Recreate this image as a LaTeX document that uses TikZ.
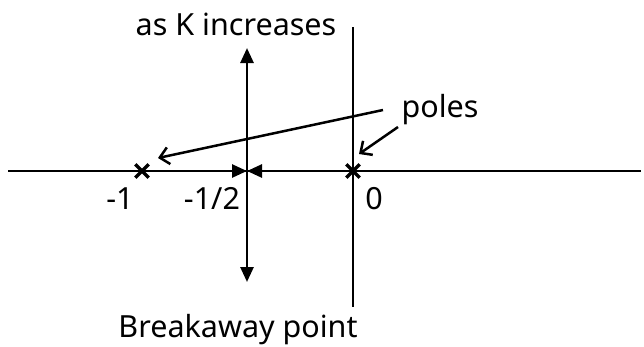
\documentclass[tikz,border=0pt]{standalone}
\usepackage{fontspec}
\setmainfont{Noto Sans}
\usetikzlibrary{positioning,arrows.meta,shapes.misc}
\tikzset{
  axisline/.style={line width=1.3pt, black},
  locusarrow/.style={-{Triangle[length=15pt,width=13pt]}, line width=2.7pt},
  polearrow/.style={-{Straight Barb[length=9pt,width=17pt]}, line width=2.5pt},
  polemark/.style={cross out, draw, line width=3.4pt, minimum size=10pt, inner sep=0pt},
  lbl/.style={anchor=base, inner sep=0pt, font=\fontsize{30.5}{35}\selectfont}
}
\begin{document}
\begin{tikzpicture}[x=1pt, y=-1pt]
      \useasboundingbox (0,0) rectangle (644,346);
      % axes
      \coordinate (reL) at (8,171);
      \coordinate (reR) at (641,171);
      \coordinate (imT) at (353,27);
      \coordinate (imB) at (353,307);
      \draw[axisline] (reL) -- (reR);
      \draw[axisline] (imT) -- (imB);
      % poles and breakaway point
      \node[polemark] (p1) at (142,171) {};
      \node[polemark] (p0) at (353,171) {};
      \coordinate (bp) at (247,171);
      \coordinate (kup) at (247,48);
      \coordinate (kdn) at (247,282);
      \draw[locusarrow] (p1) -- (bp);
      \draw[locusarrow] (p0) -- (bp);
      \draw[locusarrow] (bp) -- (kup);
      \draw[locusarrow] (bp) -- (kdn);
      % labels
      \node[lbl] (lm1) at (120,209) {-1};
      \node[lbl] (lmh) at (212,209) {-1/2};
      \node[lbl] (lz) at (374,209) {0};
      \node[lbl] (lk) at (236,35) {as K increases};
      \node[lbl] (lbr) at (238,337) {Breakaway point};
      \node[lbl] (lpoles) at (440,117) {poles};
      % pointers to the poles
      \coordinate (s1) at (383,110);
      \coordinate (t1) at (158,158);
      \coordinate (s0) at (398,127);
      \coordinate (t0) at (359,154);
      \draw[polearrow] (s1) -- (t1);
      \draw[polearrow] (s0) -- (t0);
\end{tikzpicture}
\end{document}
